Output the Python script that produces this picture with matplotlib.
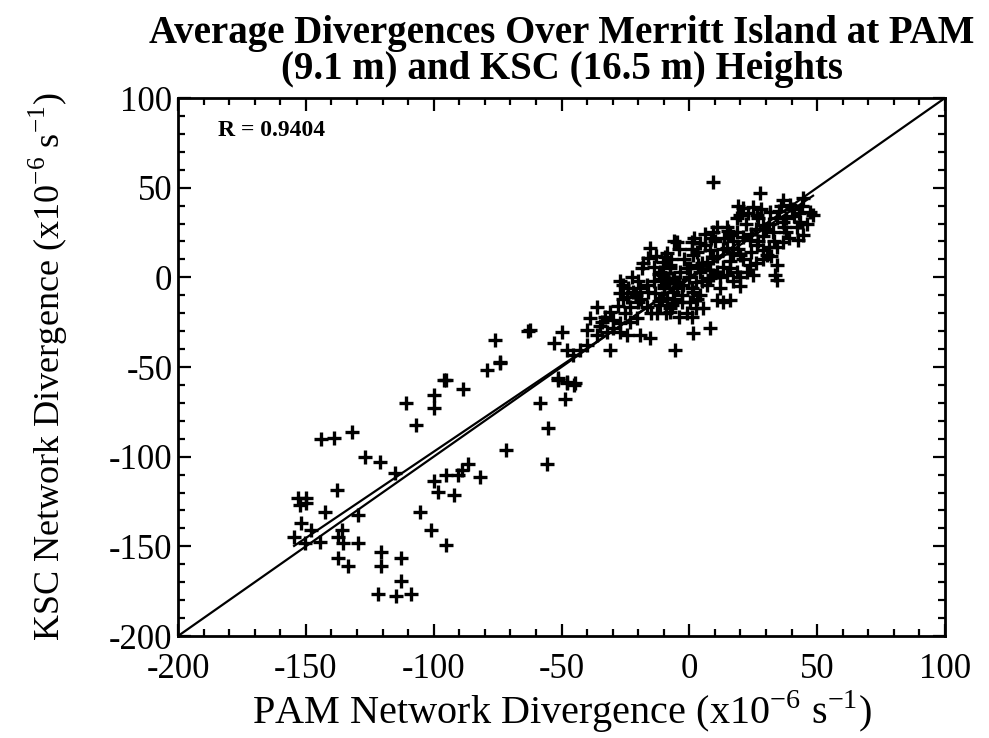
import numpy as np
import matplotlib
matplotlib.use('Agg')
import matplotlib.pyplot as plt
from matplotlib.ticker import MultipleLocator

plt.rcParams['font.family'] = ['Liberation Serif', 'DejaVu Serif']
plt.rcParams['mathtext.fontset'] = 'custom'
plt.rcParams['mathtext.rm'] = 'Liberation Serif'
plt.rcParams['axes.unicode_minus'] = False

# PAM (x) / KSC (y) divergence pairs (x10^-6 s^-1)
# sparse part, x < -45
pam_low = [-76, -63, -50, -53, -48, -45.5, -79, -74, -96, -95, -88.5, -111, -100, -100,
           -107, -144, -139, -132, -127, -121, -115, -58.6, -55.3, -55.6, -51.4, -48, -45,
           -71.6, -86.6, -89, -90.5, -95, -82, -100, -98.3, -92, -105.5, -101, -95,
           -153, -150, -152.4, -150, -137.7, -142.6, -129.6, -151.8, -148, -154.6, -150.5,
           -144.6, -137.4, -136, -135.5, -129.6, -137.4, -133.5, -120.5, -120.5, -112.7,
           -112.7, -121.8, -114.6, -108.7, -62.3, -74, -51.3, -48, -44.7, -48.8]
ksc_low = [-35, -30, -30.3, -36.8, -40.6, -43.3, -51.7, -47.6, -57, -57.3, -62.5, -70.3, -65.6, -73,
           -82.4, -90.4, -89.8, -86, -100, -103, -109, -70, -84, -104, -57, -59, -60,
           -96.3, -104, -107.5, -110.3, -110.3, -111.2, -113.4, -119.6, -121.4, -130.7, -141, -149,
           -123.3, -123.3, -127, -126, -118.6, -130.7, -132.6, -137.2, -141, -145, -148.4,
           -147.5, -144.7, -141, -148.4, -148.4, -156.4, -160.8, -153, -160.8, -156.7,
           -169.2, -176.3, -177.6, -176.6, -29.4, -47, -56.3, -58.2, -59.1, -68]

# dense part, x > -45
pam_core = [-15.4, -16.1, -5, -9.5, -18.7, -22.6, -25.8, -27.1, -24.5, -19.3, -16.7, -13.5,
            -10.2, -7.6, -6.3, -10.8, -12.8, -7.6, -6.9, -16.7, -23.2, -36.3, -31, -38.9,
            -34.3, -29.8, -27.1, -23.2, -20.6, -40.2, -32.3, -27.1, -24.5, -19.3, -15.4,
            -36.3, -31, -42.8, -40.2, -5.6, 9.4, 27.6, 36.7, 39.3, 44.6, 47.2, 48.4, 43.3,
            44.6, 42.6, 21.1, 25, 26.3, 19.8, 18.5, 31.6, 34.1, 36.7, 28.9, 32.8, 38, 36.7,
            34.1, 14.6, 15.9, 13.5, 9.2, 8.5, 0.9, 4.2, 18.5, 21.1, 23.7, 26.3, 28.9, 30.2,
            14.6, 17.2, 19.8, 8, 9.3, 6.8, 1.5, 3.5, 0.2, -8.9, -10.2, -7.6, -11.5, -8.9,
            -3.7, -5, -2.4, -6.3, -8.9, -11.5, -7.6, 9.4, 8, 10.7, 14.6, 18.5, 22.4, 23.7,
            25, 2.8, 1.5, 4.1, 34.1, 33.5, 34.1, 10.7, 13.3, 15.9, 0.2, 2.8, 5.4, 1.5, 8,
            0.9, -12, -8, -5, -10, -14, -6, -3, -9, -4, -12, -27, -24, -21, -26, -20,
            -2, 3, 6, 11, 13, 16, 19, 21, 24, 27, 4, 7, 12, 17, 20, -4, 0, 5, 10, 15, 26,
            29, 31, 35, 38, 40, 42, 44, 46, -10, -6, -3, 1, -1, 3,
            -18, -14, -11, -16, -20, -13, -7, -19, -22, -15, -28, -33, -25, -30, -35,
            2, 6, 11, 13, 17, 22, 24, 27, 30, 33, 12, 16, 20, 26, 29, 31, 37, 39, 41, 43,
            5, -1, 8, -6, 1, 23, 19, 28, 36, 32]
ksc_core = [16.2, 10.6, 19.9, 11.5, 5, 0.3, -4.3, -8.9, -10.8, -6.1, -4.3, -8.9,
            1.3, 5, -0.6, -11.7, -20.1, -19.2, -15.4, -16.4, -16.4, -16.4, -19.2, -22.9,
            -24.8, -23.8, -25.7, -24.8, -22.9, -29.4, -30.3, -30.3, -32.2, -32.2, -34,
            -32.2, -40.5, -40.5, -37.8, -40.5, 53.3, 46.9, 43.1, 40.3, 44.1, 36.6, 34.7, 31,
            23.6, 20.8, 38.5, 39.4, 34.7, 34.7, 32.9, 36.6, 32.9, 31, 29.2, 25.4, 25.4, 19.9,
            17.1, 28.2, 23.6, 21.8, 25.4, 21.8, 19.9, 19, 25.4, 22.7, 20.8, 18, 15.2, 12.4,
            16.2, 13.4, 12.4, 15.2, 10.6, 8.7, 12.4, 6.9, 5, 13.4, 8.7, 6.9, 3.1, -0.6,
            3.1, -2.5, -4.3, -8, -11.7, -15.4, -17.3, 1.3, -0.6, 3.1, 1.3, 3.1, 3.1, 6.9,
            1.3, -2.5, -8, -9.9, 6.9, 1.3, -1.5, -12.7, -13.6, -12.7, -13.6, -17.3, -17.3, -31.2, -28.4,
            -21.9, 2, -3, -6, -6, -2, -12, -10, -20, -22, -13, -2, -6, -10, -12, -14,
            10, 14, 18, 12, 6, 9, 16, 10, 14, 20, 3, -4, -6, -2, -5, 16, 0, 8, 20, 26, 27,
            23, 30, 37, 33, 38, 28, 40, 30, -4, -1, -14, -6, -20, -12,
            8, 6, -1, -8, -2, 12, 10, -12, -8, -20, -16, -22, -20, -28, -27,
            22, 24, 28, 16, 20, 30, 24, 33, 27, 20, 0, 5, 0, 8, 10, 17, 28, 22, 34, 36,
            -2, 5, 4, 20, 16, 36, 40, 38, 40, 12]

pam = np.array(pam_low + pam_core)
ksc = np.array(ksc_low + ksc_core)

# 회귀 직선 (least squares)
p1 = np.polyfit(pam, ksc, 1)
xfit = np.array([pam.min(), pam.max()])

fig = plt.figure(figsize=(9.89, 7.38), dpi=100)
ax = fig.add_axes([0.18, 0.1382, 0.7755, 0.729])

ax.plot(pam, ksc, '+', color='black', markersize=10, markeredgewidth=2.4)
ax.plot([-200, 100], [-200, 100], '-', color='black', lw=1.6)   # 1:1 line
ax.plot(xfit, np.polyval(p1, xfit), '-', color='black', lw=1.6)

ax.set_xlim(-200, 100)
ax.set_ylim(-200, 100)
ax.xaxis.set_major_locator(MultipleLocator(50))
ax.yaxis.set_major_locator(MultipleLocator(50))
ax.xaxis.set_minor_locator(MultipleLocator(10))
ax.yaxis.set_minor_locator(MultipleLocator(10))
ax.tick_params(which='both', direction='in', top=True, right=True, width=1.6)
ax.tick_params(which='major', length=9, labelsize=25)
ax.tick_params(axis='x', which='major', pad=12)
ax.tick_params(axis='y', which='major', pad=4)
ax.tick_params(which='minor', length=5)
for s in ax.spines.values():
    s.set_linewidth(2)

ax.text(-184.5, 82, 'R = 0.9404', fontsize=17, fontweight='bold', va='center', ha='left')

ax.set_xlabel(r'PAM Network Divergence (x10$^{\mathrm{-6}}$ s$^{\mathrm{-1}}$)', fontsize=29, labelpad=2)
ax.set_ylabel(r'KSC Network Divergence (x10$^{\mathrm{-6}}$ s$^{\mathrm{-1}}$)', fontsize=26, labelpad=28)
ax.set_title('Average Divergences Over Merritt Island at PAM\n(9.1 m) and KSC (16.5 m) Heights',
             fontsize=28, fontweight='bold', pad=14, linespacing=0.95)

fig.savefig('out.png', dpi=100)
